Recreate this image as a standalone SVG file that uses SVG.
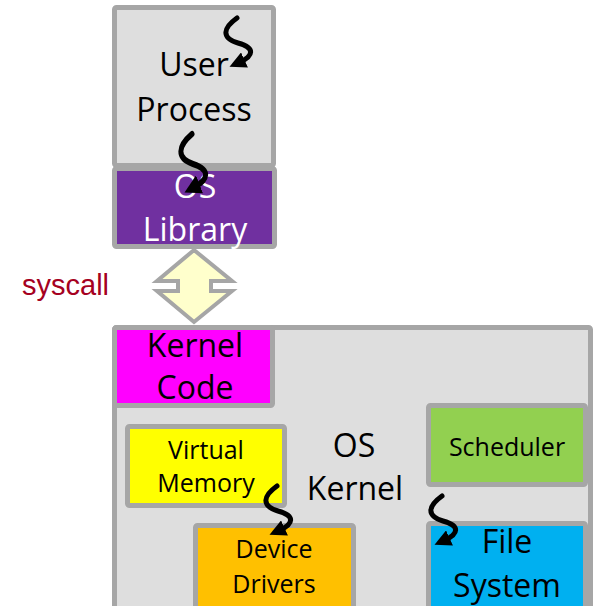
<svg xmlns="http://www.w3.org/2000/svg" width="594" height="606" viewBox="0 0 594 606">
  <style>
    .box { stroke: #A6A6A6; stroke-width: 5; }
    .big { font-family: "Open Sans", "Liberation Sans", sans-serif; font-size: 32px; text-anchor: middle; fill: #000; }
    .small { font-family: "Open Sans", "Liberation Sans", sans-serif; font-size: 25px; text-anchor: middle; fill: #000; }
    .inv { fill: #fff; }
    .thread { fill: none; stroke: #000; stroke-width: 5; stroke-linecap: round; marker-end: url(#head); }
  </style>
  <defs>
    <marker id="head" viewBox="0 0 10 10" refX="3" refY="5" markerWidth="3.3" markerHeight="3.3" orient="auto" markerUnits="strokeWidth">
      <path d="M0,0 L10,5 L0,10 Z" fill="#000"/>
    </marker>
    <!-- thread-of-control squiggle, drawn from its start point -->
    <path id="squiggle" class="thread" d="M0,0 C-14,10 -16,20 1,25 C19,30 16,38 3,44"/>
  </defs>
  <rect width="594" height="606" fill="#fff"/>

  <!-- kernel area -->
  <g id="os-kernel">
    <rect class="box" x="114.5" y="327.5" width="476" height="290" rx="2" fill="#DEDEDE"/>
    <text class="big" x="354" y="457">OS</text>
    <text class="big" x="355" y="500">Kernel</text>
  </g>
  <g id="kernel-code">
    <rect class="box" x="114.5" y="327.5" width="158" height="78" rx="2" fill="#FF00FF"/>
    <text class="big" x="195" y="357">Kernel</text>
    <text class="big" x="195" y="399">Code</text>
  </g>
  <g id="virtual-memory">
    <rect class="box" x="127.5" y="426.5" width="157" height="79" rx="2" fill="#FFFF00"/>
    <text class="small" x="206" y="459">Virtual</text>
    <text class="small" x="206" y="492">Memory</text>
  </g>
  <g id="device-drivers">
    <rect class="box" x="195.5" y="525.5" width="158" height="100" rx="2" fill="#FFC000"/>
    <text class="small" x="274" y="558">Device</text>
    <text class="small" x="274" y="593">Drivers</text>
  </g>
  <g id="scheduler">
    <rect class="box" x="428.5" y="405.5" width="157" height="79" rx="2" fill="#92D050"/>
    <text class="small" x="507" y="456">Scheduler</text>
  </g>
  <g id="file-system">
    <rect class="box" x="428.5" y="523.5" width="157" height="100" rx="2" fill="#00B0F0"/>
    <text class="big" x="507" y="553">File</text>
    <text class="big" x="507" y="597">System</text>
  </g>

  <!-- user side -->
  <g id="user-process">
    <rect class="box" x="114.5" y="7.5" width="159" height="158" rx="2" fill="#DEDEDE"/>
    <text class="big" x="194" y="76">User</text>
    <text class="big" x="194" y="121">Process</text>
  </g>
  <g id="os-library">
    <rect class="box" x="114.5" y="168.5" width="160" height="78" rx="2" fill="#7030A0"/>
    <text class="big inv" x="195" y="198">OS</text>
    <text class="big inv" x="195" y="241">Library</text>
  </g>

  <!-- connectors -->
  <g id="connectors">
    <polygon points="194,250 232,281 211,281 211,291 232,291 194,322 157,291 178,291 178,281 157,281" fill="#FFFFCC" stroke="#A6A6A6" stroke-width="4"/>
    <text x="22" y="295" font-family="'Liberation Sans', Arial, sans-serif" font-size="29" fill="#A50021">syscall</text>
    <use href="#squiggle" transform="translate(237,18)"/>
    <use href="#squiggle" transform="translate(192,134) scale(1,1.2)"/>
    <use href="#squiggle" transform="translate(277,486)"/>
    <use href="#squiggle" transform="translate(442,496)"/>
  </g>
</svg>
